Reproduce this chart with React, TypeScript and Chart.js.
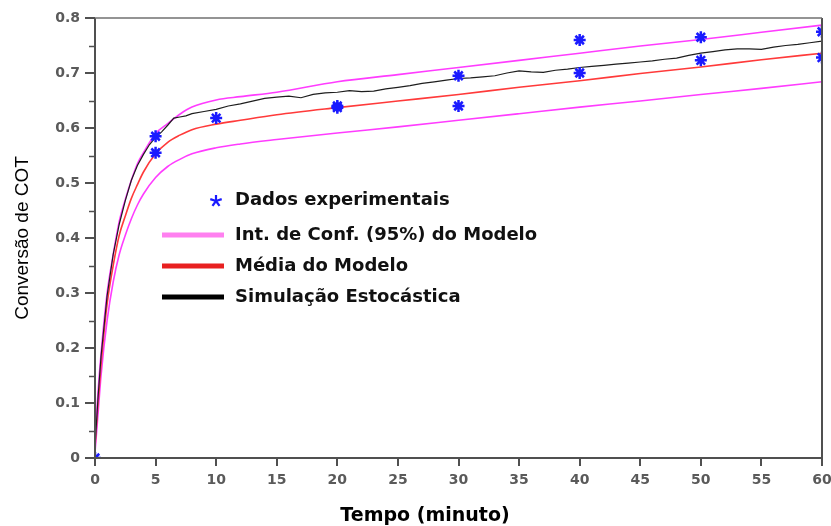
import React, { useEffect, useRef } from 'react';
import { Chart, registerables } from 'chart.js';

Chart.register(...registerables);

// ---- Data ----
const timeModel = [0, 0.25, 0.5, 1, 1.5, 2, 2.5, 3, 3.5, 4, 5, 6, 7, 8, 10, 12, 15, 20, 25, 30, 35, 40, 45, 50, 55, 60];
const upperCI = [0.03, 0.12, 0.19, 0.3, 0.37, 0.43, 0.47, 0.505, 0.535, 0.555, 0.59, 0.608, 0.625, 0.638, 0.651, 0.657, 0.665, 0.684, 0.697, 0.71, 0.723, 0.736, 0.749, 0.761, 0.774, 0.787];
const meanModel = [0.02, 0.1, 0.17, 0.28, 0.35, 0.405, 0.44, 0.472, 0.497, 0.52, 0.553, 0.574, 0.587, 0.597, 0.607, 0.614, 0.624, 0.637, 0.649, 0.661, 0.674, 0.686, 0.699, 0.711, 0.724, 0.736];
const lowerCI = [0.01, 0.08, 0.15, 0.25, 0.32, 0.37, 0.405, 0.435, 0.46, 0.48, 0.51, 0.53, 0.543, 0.553, 0.564, 0.571, 0.579, 0.591, 0.602, 0.614, 0.626, 0.638, 0.649, 0.661, 0.672, 0.684];

const timeSim = [0, 0.25, 0.5, 1, 1.5, 2, 2.5, 3, 3.5, 4, 4.5, 5, 5.5, 6, 6.5, 7, 7.5, 8, 9, 10, 11, 12, 13, 14, 15, 16, 17, 18, 19, 20, 21, 22, 23, 24, 25, 26, 27, 28, 29, 30, 31, 32, 33, 34, 35, 36, 37, 38, 39, 40, 41, 42, 43, 44, 45, 46, 47, 48, 49, 50, 51, 52, 53, 54, 55, 56, 57, 58, 59, 60];
const simConv = [0.02, 0.11, 0.185, 0.295, 0.37, 0.425, 0.468, 0.505, 0.532, 0.552, 0.57, 0.583, 0.593, 0.605, 0.618, 0.62, 0.622, 0.626, 0.63, 0.634, 0.64, 0.644, 0.649, 0.654, 0.656, 0.658, 0.655, 0.661, 0.664, 0.665, 0.668, 0.666, 0.667, 0.671, 0.674, 0.677, 0.681, 0.684, 0.687, 0.69, 0.691, 0.693, 0.695, 0.7, 0.704, 0.702, 0.701, 0.705, 0.707, 0.71, 0.712, 0.714, 0.716, 0.718, 0.72, 0.722, 0.725, 0.727, 0.732, 0.736, 0.739, 0.742, 0.744, 0.744, 0.743, 0.747, 0.75, 0.752, 0.755, 0.758];

const expTime = [0, 5, 5, 10, 20, 20, 30, 30, 40, 40, 50, 50, 60, 60];
const expConv = [0, 0.585, 0.555, 0.618, 0.64, 0.637, 0.695, 0.64, 0.76, 0.7, 0.765, 0.723, 0.775, 0.728];

const legendLabels = ['Dados experimentais', 'Int. de Conf. (95%) do Modelo', 'Média do Modelo', 'Simulação Estocástica'];
const xTitle = 'Tempo (minuto)';
const yTitle = 'Conversão de COT';

const pts = (xs: number[], ys: number[]) => xs.map((x, i) => ({ x, y: ys[i] }));

const AXIS = '#505050';
const MAGENTA = '#ff3cff';

const decorPlugin = {
  id: 'decor',
  afterDatasetsDraw(chart: any) {
    const { ctx, chartArea: ca, scales } = chart;
    ctx.save();
    // minor y ticks
    ctx.strokeStyle = AXIS;
    ctx.lineWidth = 1.5;
    for (let v = 0.05; v < 0.8; v += 0.1) {
      const y = Math.round(scales.y.getPixelForValue(v)) + 0.5;
      ctx.beginPath();
      ctx.moveTo(ca.left - 6, y);
      ctx.lineTo(ca.left, y);
      ctx.stroke();
    }
    // frame
    ctx.lineWidth = 2;
    ctx.strokeStyle = AXIS;
    ctx.beginPath();
    ctx.moveTo(ca.left, ca.top);
    ctx.lineTo(ca.left, ca.bottom);
    ctx.lineTo(ca.right, ca.bottom);
    ctx.lineTo(ca.right, ca.top);
    ctx.stroke();
    ctx.strokeStyle = '#707070';
    ctx.lineWidth = 1.5;
    ctx.beginPath();
    ctx.moveTo(ca.left, ca.top);
    ctx.lineTo(ca.right, ca.top);
    ctx.stroke();
    ctx.restore();
  },
  afterDraw(chart: any) {
    const { ctx, chartArea: ca } = chart;
    ctx.save();
    const lx = ca.left + 67;
    const tx = ca.left + 140;
    const rows = [ca.top + 182, ca.top + 217, ca.top + 248, ca.top + 279];
    // star
    const sx = ca.left + 121;
    const sy = rows[0] + 1;
    ctx.strokeStyle = '#1a1aff';
    ctx.lineWidth = 2.2;
    for (let k = 0; k < 5; k++) {
      const a = -Math.PI / 2 + (k * 2 * Math.PI) / 5;
      ctx.beginPath();
      ctx.moveTo(sx, sy);
      ctx.lineTo(sx + Math.cos(a) * 6, sy + Math.sin(a) * 6);
      ctx.stroke();
    }
    const lines = [
      { c: '#ff80f0', y: rows[1] },
      { c: '#e82020', y: rows[2] },
      { c: '#000000', y: rows[3] },
    ];
    ctx.lineWidth = 5;
    lines.forEach((l) => {
      ctx.strokeStyle = l.c;
      ctx.beginPath();
      ctx.moveTo(lx, l.y);
      ctx.lineTo(lx + 62, l.y);
      ctx.stroke();
    });
    ctx.fillStyle = '#111';
    ctx.font = 'bold 18px "DejaVu Sans"';
    ctx.textBaseline = 'middle';
    ctx.textAlign = 'left';
    legendLabels.forEach((t, i) => ctx.fillText(t, tx, rows[i]));
    // x title
    ctx.font = 'bold 19px "DejaVu Sans"';
    ctx.textAlign = 'center';
    ctx.fillStyle = '#000';
    ctx.fillText(xTitle, 425, 516);
    ctx.restore();
  },
};

export default function App() {
  const ref = useRef<HTMLCanvasElement | null>(null);
  useEffect(() => {
    if (!ref.current) return;
    const chart = new Chart(ref.current, {
      type: 'line',
      data: {
        datasets: [
          {
            label: legendLabels[0],
            data: pts(expTime, expConv),
            showLine: false,
            pointStyle: 'star',
            pointRadius: 6,
            pointBorderWidth: 2.5,
            borderColor: '#1a1aff',
            backgroundColor: '#1a1aff',
            clip: 0,
            order: 0,
          } as any,
          {
            label: 'sim',
            data: pts(timeSim, simConv),
            borderColor: '#1e1e1e',
            borderWidth: 1.2,
            pointRadius: 0,
            tension: 0,
            order: 1,
          },
          {
            label: 'upper',
            data: pts(timeModel, upperCI),
            borderColor: MAGENTA,
            borderWidth: 1.6,
            pointRadius: 0,
            cubicInterpolationMode: 'monotone',
            order: 2,
          },
          {
            label: 'mean',
            data: pts(timeModel, meanModel),
            borderColor: '#ff3a3a',
            borderWidth: 1.6,
            pointRadius: 0,
            cubicInterpolationMode: 'monotone',
            order: 3,
          },
          {
            label: 'lower',
            data: pts(timeModel, lowerCI),
            borderColor: MAGENTA,
            borderWidth: 1.6,
            pointRadius: 0,
            cubicInterpolationMode: 'monotone',
            order: 4,
          },
        ],
      },
      options: {
        responsive: false,
        animation: false,
        layout: { padding: { top: 18, right: 9, left: 0, bottom: 0 } },
        plugins: { legend: { display: false }, tooltip: { enabled: false } },
        scales: {
          x: {
            type: 'linear',
            min: 0,
            max: 60,
            ticks: {
              stepSize: 5,
              color: '#5a5a5a',
              font: { family: 'DejaVu Sans', size: 14, weight: 'bold' },
              padding: 6,
              maxRotation: 0,
            },
            grid: { drawOnChartArea: false, drawTicks: true, tickLength: 8, color: AXIS, lineWidth: 2 },
            border: { display: false },
            afterFit: (s: any) => {
              s.height = 68;
              s.paddingLeft = 0;
              s.paddingRight = 0;
            },
          },
          y: {
            type: 'linear',
            min: 0,
            max: 0.8,
            ticks: {
              stepSize: 0.1,
              color: '#5a5a5a',
              font: { family: 'DejaVu Sans', size: 14, weight: 'bold' },
              padding: 5,
              callback: (v: any) => String(Number(Number(v).toFixed(2))),
            },
            grid: { drawOnChartArea: false, drawTicks: true, tickLength: 10, color: AXIS, lineWidth: 2 },
            border: { display: false },
            title: {
              display: true,
              text: yTitle,
              color: '#000',
              font: { family: 'Liberation Sans', size: 19 },
              padding: { top: 11, bottom: 0 },
            },
            afterFit: (s: any) => {
              s.width = 95;
              s.paddingTop = 0;
              s.paddingBottom = 0;
            },
          },
        },
      },
      plugins: [decorPlugin],
    });
    return () => chart.destroy();
  }, []);
  return (
    <div style={{ position: 'fixed', left: 0, top: 0, width: 831, height: 526, background: '#fff' }}>
      <canvas ref={ref} width={831} height={526} />
    </div>
  );
}
